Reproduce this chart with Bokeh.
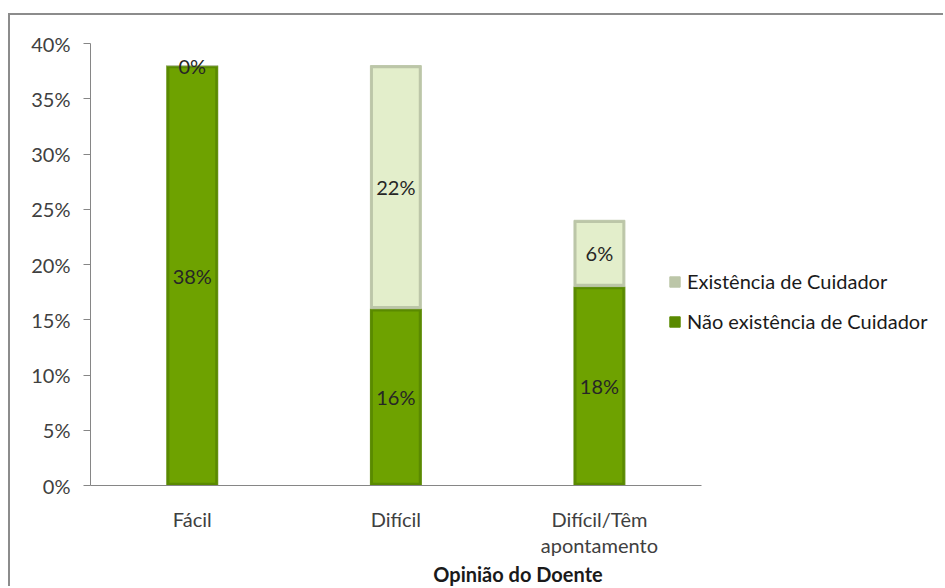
from bokeh.plotting import figure
from bokeh.models import ColumnDataSource, Range1d, PrintfTickFormatter, FixedTicker, Legend, LegendItem
from bokeh.core.properties import value
from bokeh.embed import file_html
from bokeh.resources import INLINE

categories = ["Fácil", "Difícil", "Difícil/Têm\napontamento"]
nao_existencia = [38, 16, 18]
existencia = [0, 22, 6]
y_ticks = [0, 5, 10, 15, 20, 25, 30, 35, 40]

GREEN = "#6ea200"
GREEN_DARK = "#5a8a00"
LIGHT = "#e3eecb"
LIGHT_DARK = "#bcc6a8"
FONT = "Lato"
TXT = "#404040"

xpos = [i + 0.5 for i in range(len(categories))]
inset = 0.25
src = ColumnDataSource(dict(
    x=xpos,
    nao=nao_existencia,
    exist=existencia,
    nao_mid=[n / 2 for n in nao_existencia],
    exist_mid=[n + e / 2 for n, e in zip(nao_existencia, existencia)],
    nao_lbl=[f"{n}%" for n in nao_existencia],
    exist_lbl=[f"{e}%" for e in existencia],
    nao_in_b=[inset for n in nao_existencia],
    nao_in_t=[max(inset, n - inset) for n in nao_existencia],
    ex_in_b=[n + inset for n in nao_existencia],
    ex_in_t=[max(n + inset, n + e - inset) for n, e in zip(nao_existencia, existencia)],
))

p = figure(x_range=Range1d(0, 4.2), y_range=Range1d(0, 40),
           width=935, height=573, output_backend="svg", toolbar_location=None,
           min_border_left=80, min_border_right=0, min_border_top=28, min_border_bottom=101)
p.styles = {"margin-left": "8px", "margin-top": "13px",
            "border-left": "2px solid #8c8c8c", "border-top": "2px solid #8c8c8c"}
p.outline_line_color = None
p.grid.visible = False

# bar bodies (darker edge) + lighter inner face
rs = p.vbar_stack(["nao", "exist"], x="x", width=0.25, source=src,
                  fill_color=[GREEN_DARK, LIGHT_DARK], line_color=[GREEN_DARK, LIGHT_DARK], line_width=1)
p.vbar(x="x", bottom="nao_in_b", top="nao_in_t", width=0.225, source=src, fill_color=GREEN, line_color=None)
p.vbar(x="x", bottom="ex_in_b", top="ex_in_t", width=0.225, source=src, fill_color=LIGHT, line_color=None)

for ycol, tcol in (("nao_mid", "nao_lbl"), ("exist_mid", "exist_lbl")):
    p.text(x="x", y=ycol, text=tcol, source=src, text_align="center", text_baseline="middle",
           text_font=value(FONT), text_font_size="20px", text_color="#262626")

# y axis
p.yaxis.ticker = y_ticks
p.yaxis.formatter = PrintfTickFormatter(format="%d%%")
p.yaxis.axis_line_color = "#868686"
p.yaxis.major_tick_line_color = "#868686"
p.yaxis.major_tick_out = 7
p.yaxis.major_tick_in = 0
p.yaxis.minor_tick_line_color = None
p.yaxis.major_label_standoff = 13
p.yaxis.major_label_text_font = FONT
p.yaxis.major_label_text_font_size = "20px"
p.yaxis.major_label_text_color = TXT

# x axis (categories)
p.xaxis.ticker = FixedTicker(ticks=xpos)
p.xaxis.major_label_overrides = {x: c for x, c in zip(xpos, categories)}
p.xaxis.bounds = (0, len(categories))
p.xaxis.axis_line_color = "#868686"
p.xaxis.major_tick_line_color = None
p.xaxis.minor_tick_line_color = None
p.xaxis.major_tick_out = 0
p.xaxis.major_label_standoff = 21
p.xaxis.major_label_text_line_height = 1.1
p.xaxis.major_label_text_font = FONT
p.xaxis.major_label_text_font_size = "20px"
p.xaxis.major_label_text_color = TXT
p.xaxis.axis_label = "Opinião do Doente"
p.xaxis.axis_label_standoff = 2
p.xaxis.axis_label_text_font = FONT
p.xaxis.axis_label_text_font_size = "20px"
p.xaxis.axis_label_text_font_style = "bold"
p.xaxis.axis_label_text_color = "#1a1a1a"

legend = Legend(items=[LegendItem(label="Existência de Cuidador", renderers=[rs[1]]),
                       LegendItem(label="Não existência de Cuidador", renderers=[rs[0]])],
                location=(578, 152), orientation="vertical",
                glyph_width=13, glyph_height=13, label_standoff=6, label_height=24, spacing=16,
                padding=0, margin=0, border_line_alpha=0, background_fill_alpha=0,
                label_text_font=FONT, label_text_font_size="20px", label_text_color="#1a1a1a")
p.add_layout(legend, "center")

open("out.html", "w").write(file_html(p, INLINE))
